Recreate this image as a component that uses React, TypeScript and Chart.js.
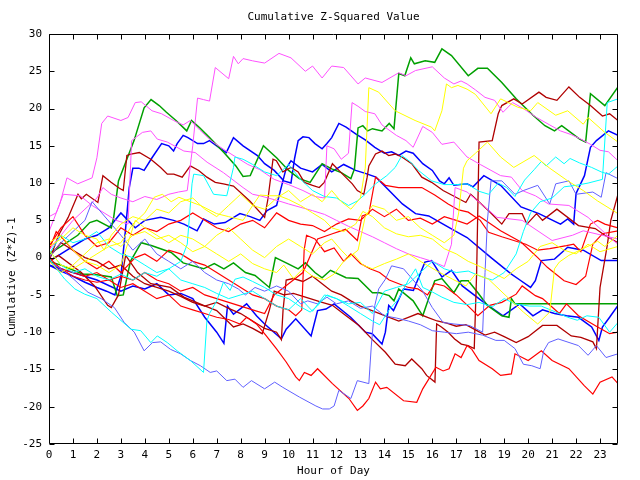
import React, { useEffect, useRef } from 'react';
import { Chart, registerables } from 'chart.js';

Chart.register(...registerables);

type Pt = [number, number];

// ---------- axis / text content ----------
const TITLE = 'Cumulative Z-Squared Value';
const X_LABEL = 'Hour of Day';
const Y_LABEL = 'Cumulative (Z*Z)-1';
const HOUR_TICKS = [0, 1, 2, 3, 4, 5, 6, 7, 8, 9, 10, 11, 12, 13, 14, 15, 16, 17, 18, 19, 20, 21, 22, 23];
const VALUE_TICKS = [-25, -20, -15, -10, -5, 0, 5, 10, 15, 20, 25, 30];
const X_MIN = 0;
const X_MAX = 23.75;
const Y_MIN = -25;
const Y_MAX = 30;

// ---------- series (hour, cumulative value) ----------
const magentaA: Pt[] = [[0,3.5],[0.45,7.2],[0.75,10.7],[1.2,9.9],[1.8,10.7],[2.0,13.4],[2.2,18],[2.45,19],[3.0,18.4],[3.3,18.8],[3.6,20.8],[3.85,20.9],[4.3,19.7],[4.7,19.3],[5.2,18.4],[5.6,17.8],[5.9,18.4],[6.3,17.1],[6.8,15.6],[7.3,14.5],[7.8,13.5],[8.3,12.5],[8.8,11.8],[9.4,10.5],[10,9.8],[10.6,9],[11.1,8.2],[11.5,8],[11.6,15],[11.9,14.6],[12.2,13.2],[12.5,14],[12.65,20.8],[12.9,20.3],[13.2,19.6],[13.6,19.3],[13.9,17.8],[14.5,16.4],[14.9,15.7],[15.2,14.8],[15.6,17.6],[16,16.8],[16.4,15.2],[16.9,15.5],[17.45,13.5],[18,12.5],[18.85,11],[19.3,10.8],[19.75,9],[20.3,8.3],[20.85,7.2],[21.7,7],[22.5,5.4],[23.4,2.7],[23.75,1.8]];
const magentaB: Pt[] = [[0,5.5],[0.3,6],[0.6,8.5],[1.3,8.3],[1.8,7],[2.3,6],[2.8,5],[3.3,4.5],[3.45,15.7],[3.9,16.8],[4.25,17],[4.52,15.9],[4.94,15.5],[5.63,14.3],[6.1,14.1],[6.6,12.8],[7.28,11.4],[8.1,9.4],[8.5,8.5],[8.8,8.3],[9.6,7.6],[10,7.2],[11,6.3],[11.5,5.8],[12,5],[12.5,4.2],[13,3.5],[13.5,2.8],[14,2],[14.5,1.2],[15,0.5],[15.5,0],[16,-0.5],[16.5,-1.2],[16.8,1.8],[16.95,9.4],[17.45,8.8],[18.7,5.4],[19.75,5],[21,2.3],[21.85,3],[22.3,3.6],[23.75,2.5]];
const magentaC: Pt[] = [[0,1],[0.5,3],[1,5],[1.5,6.5],[2,8],[2.25,9.4],[2.6,8.5],[3,8],[3.5,7.5],[4,8.2],[4.5,7.8],[5,8.5],[5.4,8.8],[5.77,9],[6.0,15],[6.2,21.4],[6.45,21.2],[6.7,21],[6.94,25.5],[7.5,24],[7.7,27],[7.9,26],[8.1,26.7],[8.5,26.4],[9,26.1],[9.6,27.4],[10.1,26.8],[10.7,25],[11,25.7],[11.4,24.1],[11.8,25.7],[12.3,25.5],[12.9,23.3],[13.2,24.1],[13.9,23.5],[14.6,24.8],[14.9,24.4],[15.3,25.1],[16,25.6],[16.5,24.1],[16.9,23.3],[17.2,23.7],[17.45,23.3],[17.8,22.5],[18.2,21.5],[18.6,21.1],[18.95,19.5],[19.35,20.8],[19.8,20],[20.35,18.8],[20.9,17.8],[21.35,17],[21.8,16.5],[22.2,15.9],[22.6,15.2],[23,14.4],[23.35,14.2],[23.75,13]];
const greenA: Pt[] = [[0,0.5],[0.5,1.5],[1.2,3],[1.7,4.7],[2,5],[2.6,4],[2.7,5.4],[2.9,10.3],[3.55,15.7],[3.97,20.1],[4.26,21.2],[4.6,20.4],[4.9,19.5],[5.3,18.4],[5.75,17],[5.95,18.4],[6.3,17.4],[6.7,16.1],[7.3,14.1],[7.8,12.3],[8.1,10.9],[8.4,11],[8.95,15],[9.5,13.4],[10,11.7],[10.45,10.6],[10.9,10.1],[11.4,12.6],[11.8,11.9],[12.2,11.4],[12.6,10.6],[12.75,11.9],[12.9,17.4],[13.1,17.7],[13.3,17],[13.5,17.3],[13.9,17],[14.2,18],[14.4,17.3],[14.6,24.7],[14.85,24.4],[15.1,26.8],[15.25,26],[15.7,26.4],[16.1,26.2],[16.4,28],[16.8,27.1],[17.5,24.4],[17.9,25.4],[18.3,25.4],[18.9,23.5],[19.5,21.3],[20.2,19.1],[20.7,17.7],[21.1,17],[21.4,17.7],[22.15,15.9],[22.4,15.5],[22.6,22],[23.2,20.4],[23.75,22.9]];
const greenB: Pt[] = [[0,-0.5],[0.5,-1],[1.4,-2.2],[2,-2.3],[2.6,-2.6],[2.85,-5.1],[3.1,-5],[3.4,-0.5],[3.85,2],[4.3,1.6],[5.1,0.7],[5.6,-0.7],[6.45,-1.5],[6.9,-0.8],[7.3,-1.5],[7.7,-0.7],[8.2,-2],[8.6,-2.4],[9.2,-4],[9.45,0],[9.9,-0.7],[10.4,-1.5],[10.7,-0.7],[11.1,-2],[11.4,-2.7],[11.75,-1.7],[12.4,-2.7],[12.9,-2.8],[13.5,-4.7],[13.8,-4.7],[14.2,-5.1],[14.4,-5.8],[14.6,-4.2],[15.2,-5.8],[15.6,-7.8],[16.1,-3.1],[16.4,-2.8],[16.9,-4.7],[17.2,-3.1],[17.5,-3.1],[17.9,-4.7],[18.3,-6.4],[18.9,-7.8],[19.2,-8],[19.3,-5.5],[19.45,-6.2],[23.75,-6.2]];
const blueA: Pt[] = [[0,-1],[0.5,-1.8],[1,-2.5],[1.5,-3.3],[2,-4],[2.4,-4.5],[2.75,-5],[3.0,-2.5],[3.2,4],[3.35,9.4],[3.5,12],[3.75,12],[3.97,11.7],[4.3,13.4],[4.7,15.3],[5,15],[5.2,14.3],[5.35,15.3],[5.6,16.4],[5.8,16.1],[6.2,15.3],[6.45,15.3],[6.7,15.7],[7,15],[7.4,14.1],[7.7,16.1],[8.1,15],[8.7,13.7],[9,12.6],[9.4,11.7],[9.8,10.3],[10.1,10],[10.25,13.3],[10.4,15.7],[10.6,16.2],[10.85,16.1],[11.1,15.3],[11.4,14.6],[11.6,15.3],[11.8,16.1],[12.1,18],[12.4,17.5],[12.8,16.6],[13.2,15.8],[13.6,14.8],[14,14],[14.3,14.2],[14.6,13.7],[14.9,14.3],[15.2,14],[15.6,12.6],[16,11.7],[16.3,10.3],[16.5,9.9],[16.7,10.7],[16.9,9.7],[17.45,9.9],[17.7,9.5],[18.15,11],[18.85,9.7],[19.7,6.8],[20.45,5.9],[21.35,4.5],[21.65,5.2],[21.9,4.5],[22,8.6],[22.35,11],[22.6,14.8],[22.85,15.7],[23.35,17],[23.75,16.4]];
const blueB: Pt[] = [[0,-1],[1,-2],[2,-3],[3,-4.5],[3.5,-3.8],[4,-4.2],[4.5,-3.5],[5,-5],[5.5,-4.8],[6,-5.5],[6.5,-8],[7,-10],[7.3,-11.5],[7.45,-6.5],[7.7,-7.6],[8.25,-6.2],[8.66,-7.8],[9.0,-8.9],[9.7,-10.9],[9.9,-9.6],[10.3,-8.2],[10.94,-10.5],[11.21,-7.1],[11.56,-6.9],[11.9,-6.2],[12.59,-8],[13.21,-10],[13.49,-10.2],[13.9,-11.6],[14.04,-10],[14.18,-6.4],[14.38,-7.1],[14.8,-4.2],[15.21,-4.4],[15.69,-0.6],[15.97,-0.4],[16.4,-2.6],[16.8,-1.7],[17.25,-3.8],[18.15,-6],[18.95,-7.8],[19.65,-6.2],[20.2,-7.8],[20.6,-7],[21.1,-7.5],[21.6,-7.8],[22.1,-8],[22.65,-9.3],[22.95,-11.1],[23.1,-9.3],[23.4,-8],[23.75,-6.4]];
const blueC: Pt[] = [[0,-0.5],[0.5,0.5],[1,1.5],[1.5,2.5],[2,3],[2.5,4],[3,6],[3.3,5],[3.6,4],[4,5],[4.66,5.4],[5.2,5],[5.63,4.5],[6.18,3.6],[6.45,5.2],[6.9,4.5],[7.35,4.7],[7.97,5.9],[8.4,5.5],[8.8,5],[9.1,6.3],[9.5,7],[9.9,12],[10.1,13],[10.5,12],[11,11.5],[11.4,12.5],[11.8,11.5],[12.3,12.5],[12.8,11.7],[13.2,11.3],[13.65,10.8],[14.75,7.2],[15.3,5.9],[15.85,5.6],[16.45,4.5],[17,3.5],[17.45,2.7],[18.45,0],[19.3,-2.2],[19.7,-3.1],[20.1,-4],[20.3,-3.1],[20.55,-0.4],[21.1,-0.2],[21.65,1.4],[22.3,1],[23.05,-0.4],[23.75,-0.4]];
const slateA: Pt[] = [[0,-0.5],[0.5,-1.5],[1,-2.8],[1.63,-4.65],[2.18,-5.5],[2.73,-6.7],[3.14,-8.7],[3.56,-10],[3.97,-12.5],[4.32,-11.4],[4.66,-11.3],[5.07,-12.3],[5.49,-12.9],[5.9,-13.8],[6.32,-14.5],[6.73,-15.4],[7.0,-15.2],[7.42,-16.5],[7.76,-16.3],[8.1,-17.4],[8.45,-16.5],[9.0,-17.6],[9.42,-16.7],[9.76,-17.4],[10.45,-18.7],[11.14,-19.9],[11.42,-20.3],[11.7,-20.3],[11.9,-19.9],[12.1,-17.8],[12.6,-18.9],[12.87,-16.5],[13.35,-16.9],[13.45,-12],[13.6,-6.4],[13.76,-4.2],[14.04,-2.9],[14.3,-1.1],[14.8,-1.5],[15.2,-3],[15.6,-4.5],[16,-6.7],[16.45,-8.7],[16.9,-8.9],[17.55,-9.1],[18.1,-10],[18.2,-2],[18.3,5],[18.45,10.3],[18.9,10.3],[19.45,8.5],[19.8,9],[20.4,9.7],[20.9,7.2],[21.15,9.9],[21.7,10.3],[22,8.5],[22.7,8.8],[23.05,8.1],[23.25,11.4],[23.75,10.6]];
const slateB: Pt[] = [[0,0],[0.5,2],[1,3.5],[1.5,5],[1.8,7.5],[2.2,6],[2.6,4.5],[3,3],[3.5,1],[4,2.5],[4.5,0.5],[5,-0.5],[5.5,-1.5],[6,-0.5],[6.5,-2],[7,-3],[7.5,-3.5],[7.9,-4.2],[8.2,-5],[8.6,-4],[9,-4.5],[9.5,-3.8],[10,-4.5],[10.5,-6.2],[10.8,-5.8],[11.2,-6.2],[11.6,-5.3],[12,-6.2],[12.5,-5.8],[13,-6.8],[13.5,-6.5],[14,-7.8],[14.5,-8.1],[15,-8.5],[15.5,-9],[16,-9.8],[16.5,-10],[17,-10.2],[17.5,-10],[18.1,-10.4],[18.65,-11.1],[19,-11.1],[19.45,-12.2],[19.8,-14.3],[20.15,-14.5],[20.5,-14.9],[20.65,-12.5],[20.85,-11.4],[21.25,-10.9],[22.1,-11.8],[22.5,-13.1],[22.85,-11.8],[23.25,-13.4],[23.75,-12.9]];
const cyanA: Pt[] = [[0,0],[0.11,-0.63],[0.66,-2.9],[1.08,-4.2],[1.49,-4.9],[2.0,-5.5],[2.6,-7.3],[3.42,-9.6],[3.83,-9.8],[4.25,-11.4],[4.52,-10.5],[4.94,-11.4],[5.35,-12.5],[5.9,-13.8],[6.45,-15.4],[6.59,-8.5],[6.7,-7.5],[7.0,-5.8],[7.28,-3.3],[7.56,-4.4],[7.76,-2.9],[8.1,-2.6],[8.5,-3.2],[9,-4],[9.5,-5],[10,-5.5],[10.5,-6.6],[10.9,-7.3],[11.2,-6.5],[11.6,-5],[12,-5.5],[12.5,-6.5],[13,-7.5],[13.5,-8.5],[13.8,-9],[14.2,-7],[14.6,-5.5],[15,-3],[15.3,-1.5],[15.6,-4],[16,-4.6],[16.4,-5.3],[16.9,-6],[17.45,-6.3],[17.95,-6],[18.5,-6.6],[19,-5.5],[19.45,-6.2],[20.05,-6.5],[20.55,-6.5],[21.15,-7.3],[21.65,-8],[22.05,-8.4],[22.45,-7.8],[22.95,-8],[23.4,-10],[23.75,-8.7]];
const cyanB: Pt[] = [[0,1],[0.5,-1],[1,-2],[1.5,-1.5],[2,-2.5],[2.5,-3],[3,-2.2],[3.5,-3],[4,-2],[4.5,-2.5],[5,-1.5],[5.5,-0.5],[5.77,1.8],[5.97,9.9],[6.04,11.2],[6.45,11],[6.87,8.5],[7.42,8.3],[7.7,12.1],[7.76,13.5],[8.1,13.2],[8.5,12.5],[9,11.5],[9.5,11],[10,12.5],[10.5,10.5],[11,9],[11.5,8.2],[12,8],[12.5,7],[12.87,7.6],[13.2,8.5],[13.63,9.9],[14.1,11],[14.45,12.1],[14.73,13.7],[15.1,12.8],[15.42,11.7],[15.97,10.3],[16.5,9.8],[17,9.8],[17.45,9.9],[17.95,8.9],[18.35,8.5],[18.75,10],[19.1,9.4],[19.45,8.2],[19.85,10.4],[20.25,11.8],[20.55,12.9],[20.75,12.3],[21.15,13.5],[21.5,12.6],[21.75,13.3],[22.15,12.7],[22.65,12.1],[23.05,11.5],[23.35,11.2],[23.75,12.3]];
const cyanC: Pt[] = [[0,0.5],[0.5,3],[1,2],[1.5,2.5],[2,3.5],[2.5,1.5],[3,0.5],[3.5,0],[4,-1],[4.5,-2],[5,-1.5],[5.5,-3],[6,-3.5],[6.5,-4],[7,-4.8],[7.5,-5.5],[8,-5],[8.5,-4.5],[9,-5.5],[9.5,-6.5],[10,-7],[10.5,-5.5],[11,-7.2],[11.5,-5],[12,-5.5],[12.5,-6.2],[13,-6],[13.5,-7.5],[14,-4.5],[14.5,-4],[15,-3.5],[15.5,-2],[16,-0.5],[16.5,-1.5],[17,-2],[17.5,-1.8],[18,-2.5],[18.5,-3],[19,-2],[19.5,0.5],[19.8,3.5],[20.1,6],[20.5,7.5],[21,8],[21.5,9.5],[22,9.7],[22.5,10],[23.1,10.5],[23.3,20.8],[23.75,21.3]];
const yellowA: Pt[] = [[0,1.5],[0.5,2.5],[1,4],[1.5,3],[2,2.5],[2.3,1],[2.6,3],[3,4.5],[3.5,5.5],[4,5],[4.5,6.5],[5,6],[5.5,7.5],[6,8],[6.5,6.5],[7,5.5],[7.5,7],[8,8.5],[8.5,7],[9,6.5],[9.5,8],[10,9],[10.5,7.5],[11,8.5],[11.4,7.5],[11.8,9],[12.2,7.5],[12.6,6.5],[13,8],[13.2,12],[13.35,22.8],[13.76,22.2],[14.45,19.7],[15.28,18.4],[15.97,17.5],[16.1,17],[16.4,19.7],[16.59,23.3],[16.8,22.8],[17.07,23.1],[17.45,22.6],[17.8,21.9],[18.45,19.3],[18.85,21.3],[19.55,20.2],[20.1,19.7],[20.4,20.8],[21.15,19.1],[21.65,19.7],[22.3,17.9],[22.5,18.8],[23.2,16.8],[23.75,15.5]];
const yellowB: Pt[] = [[0,-0.5],[0.5,-2],[1,-1],[1.5,0.5],[2,2],[2.5,2.5],[3,1.5],[3.5,3],[4,3.5],[4.5,2.5],[5,3],[5.5,2],[6,0.8],[6.5,1.5],[7,3],[7.5,4],[8,2.5],[8.5,1],[9,0],[9.5,1.5],[10,2.5],[10.5,1.5],[11,0.5],[11.5,2],[11.8,2.5],[12.2,1],[12.5,0],[12.9,1],[13.2,5.5],[13.5,7],[14,6.5],[14.5,5],[15,5.5],[15.5,4],[16,3],[16.5,2],[16.9,3],[17.1,6],[17.3,12],[17.45,13],[17.8,14],[18.3,15.5],[18.85,13.5],[19.4,12.1],[20.25,13.7],[20.9,12],[21.65,10.3],[22.3,9],[22.9,7.6],[23.75,5.9]];
const yellowC: Pt[] = [[0,2],[0.5,3],[1,1],[1.5,-0.5],[2,-1],[2.5,-2],[3,-1],[3.3,2],[3.6,5],[4,4],[4.5,3],[5,2],[5.5,3],[6,2.5],[6.5,1.5],[7,0.5],[7.5,-0.5],[8,0.5],[8.5,-0.8],[9,-1.5],[9.5,-2],[9.8,-1],[10.2,-2.8],[10.6,-1.5],[11,-2.5],[11.5,-3],[11.9,-2.2],[12.3,-0.5],[12.7,0.5],[13.1,-1],[13.5,-1.5],[14,-0.8],[14.5,-0.2],[15,0.5],[15.56,-0.6],[16.2,-1.8],[16.85,-2.9],[17.4,-3.8],[17.8,-2.2],[18.35,-2.9],[19.2,-5.5],[19.8,-7.3],[20.4,-8.9],[20.9,-7.3],[21.1,-1.5],[21.3,-0.6],[21.7,0.3],[22.55,1.6],[22.9,2.2],[23.2,1.5],[23.75,3]];
const yellowD: Pt[] = [[0,1],[0.5,-1],[1,-1.5],[1.5,-0.5],[2,0.5],[2.5,1.5],[3,2],[3.5,4.5],[4,6],[4.39,8.1],[4.73,8.5],[5.1,7.5],[5.42,8.1],[5.9,7.5],[6.32,7],[7,5.9],[7.5,5.5],[8.1,5],[8.5,7],[8.8,8.4],[9.2,8.3],[9.6,8.3],[10,7.8],[10.5,7],[11,6],[11.5,5],[11.8,4],[12.3,3.5],[12.8,4.5],[13.1,6.2],[13.5,5.5],[14,4],[14.5,3.2],[15,2.8],[15.5,3],[16,2.5],[16.5,1.2],[17,0.5],[17.5,-0.5],[18,-1.2],[18.5,-2],[19,-2.8],[19.5,-1.5],[20,-0.5],[20.5,1.5],[21,2],[21.5,1],[22,0.5],[22.5,1.8],[23,0.8],[23.75,1.5]];
const redA: Pt[] = [[0,-0.5],[0.5,-1.5],[1,-2.5],[1.5,-3],[2,-3.3],[2.5,-3],[3,-4],[3.5,-3.5],[4,-4.5],[4.5,-5.5],[5,-5],[5.5,-6.5],[6,-7],[6.5,-7.5],[7,-8],[7.5,-8.3],[7.97,-8.9],[8.25,-8],[8.66,-8.9],[9.07,-10.5],[9.49,-12.2],[9.9,-14],[10.3,-16],[10.45,-16.5],[10.66,-15.4],[10.94,-15.8],[11.21,-14.9],[11.83,-16.9],[12.52,-18.9],[12.87,-20.5],[13.1,-19.9],[13.35,-18.9],[13.63,-16.7],[13.83,-17.6],[14.1,-17.4],[14.8,-19.2],[15.35,-19.4],[15.6,-17.6],[15.85,-16.3],[16.15,-14.7],[16.45,-15.2],[16.7,-14.9],[16.95,-12.9],[17.2,-13.4],[17.45,-11.8],[17.65,-12.3],[17.95,-13.8],[18.5,-14.9],[18.85,-15.8],[19.3,-15.6],[19.45,-12.9],[20,-13.8],[20.55,-12.5],[21,-13.8],[21.7,-14.9],[22.35,-17.2],[22.7,-18.3],[23,-16.7],[23.5,-16],[23.75,-16.9]];
const redB: Pt[] = [[0,1],[0.3,3.5],[0.6,2.5],[1,1],[1.5,-0.5],[2,-1.5],[2.5,-0.5],[3,-2],[3.3,-1],[3.6,0],[4,0.5],[4.5,-0.5],[5,1],[5.5,0.5],[6,-0.5],[6.5,-1],[7,-2],[7.5,-3],[8,-4],[8.5,-5],[9,-5.5],[9.5,-6.5],[10,-7],[10.3,-7.8],[10.55,-7],[10.65,1],[10.75,3],[11.1,2.5],[11.5,0.8],[11.9,1.3],[12.3,-0.5],[12.6,0.5],[13,-0.8],[13.4,-1.5],[13.8,-2],[14.2,-3],[14.6,-3.5],[15,-4],[15.4,-4.2],[15.8,-5],[16.1,-3.5],[16.5,-3.8],[17,-5],[17.5,-6.5],[17.9,-7.8],[18.4,-6.4],[18.9,-6],[19.5,-4.9],[19.75,-3.8],[20.3,-5.1],[20.6,-5.5],[21.3,-7.5],[21.6,-6.2],[22.1,-7.8],[22.9,-9.3],[23.4,-10.2],[23.75,-10]];
const redC: Pt[] = [[0,0],[0.5,-1.5],[1,-2],[1.5,-2.5],[2,-2],[2.5,-3],[3,-2.5],[3.5,-3],[4,-2],[4.5,-3],[5,-3.5],[5.5,-4.5],[6,-4],[6.5,-5],[7,-5.5],[7.5,-6],[8,-6.5],[8.5,-7],[9,-7.5],[9.4,-5],[9.8,-4],[10.2,-3],[10.6,-2],[11.21,2.5],[11.83,3.2],[12.38,3.8],[12.87,2.3],[13.07,5.6],[13.35,5.9],[13.63,10.8],[14.04,9.7],[14.59,9.4],[15.14,9.4],[15.56,9.4],[16.1,8.4],[16.66,7.2],[17.1,6.4],[17.5,6.1],[18,5],[18.35,3.4],[18.9,2.8],[19.5,2.2],[19.9,1.8],[20.4,1],[20.9,1.2],[21.6,1.6],[21.9,1.8],[22.2,0.8],[22.6,4.5],[22.9,5],[23.2,4.5],[23.75,4]];
const redE: Pt[] = [[0,1.5],[0.5,4],[1,5.5],[1.5,3],[2,1.5],[2.5,2],[3,4],[3.5,3],[4,4],[4.5,3.5],[5,4.5],[5.5,5],[6,6],[6.5,5],[7,4],[7.5,3.5],[8,4.5],[8.5,5],[9,4],[9.5,6],[10,5],[10.5,4.5],[11,4.3],[11.5,3.5],[12,4.5],[12.5,5.2],[13,5],[13.5,6.5],[14,5.5],[14.5,6.5],[15,5],[15.5,5.3],[16,4.5],[16.5,5.5],[17,5],[17.45,4.5],[17.95,5.6],[18.85,3.6],[19.7,2.1],[20.4,0],[20.8,-1.3],[21.5,-3.1],[22,-3.6],[22.4,-2.5],[22.7,1.8],[23.1,3.2],[23.75,3.6]];
const darkRedA: Pt[] = [[0,-0.5],[0.4,3],[0.8,5.4],[1.21,8.5],[1.35,7.9],[1.56,8.5],[2.04,7.4],[2.25,11],[2.59,10.1],[2.94,9.3],[3.1,9],[3.25,13.7],[3.42,13.9],[3.77,14.1],[4.25,13.2],[4.66,12.1],[4.94,11.2],[5.21,11.2],[5.56,10.8],[5.9,12.3],[6.25,11.7],[6.59,10.8],[6.94,10.1],[7.28,9.9],[7.7,9.6],[8.38,7.6],[9.0,5.4],[9.14,7.9],[9.35,13.2],[9.49,13],[9.76,11.5],[10.1,12.1],[10.4,11.5],[10.66,10.1],[11,9.7],[11.28,9.4],[11.49,10.1],[11.83,12.6],[12.1,11.7],[12.38,10.8],[12.66,9.9],[12.87,9],[13.14,8.5],[13.28,10.8],[13.35,12.3],[13.63,13.9],[13.9,14.3],[14.18,13.7],[14.45,13.9],[14.73,13.5],[15.14,12.6],[15.56,10.8],[15.97,10.1],[16.45,9],[17.4,7.4],[17.6,8.5],[18.35,6.3],[18.9,4.5],[19.2,5.9],[19.75,5.9],[19.95,4.5],[20.35,5.9],[20.6,5],[21.2,6.5],[22.1,4.3],[22.8,3.9],[23.2,3],[23.75,2]];
const darkRedB: Pt[] = [[0,-0.5],[0.39,0.3],[1.35,-2],[1.9,-3.8],[2.45,-6.4],[2.6,-6.7],[2.9,-5],[3.2,0.3],[3.7,-2],[4.25,-3.5],[5.07,-4],[5.63,-5.3],[6.45,-6.4],[7.0,-7.1],[7.7,-9.3],[8.1,-8.9],[8.5,-9.5],[8.9,-10.2],[9.2,-7],[9.4,-4.5],[9.8,-5],[10.2,-4.8],[10.6,-5.2],[11,-5.6],[11.4,-6],[11.83,-6.4],[12.4,-7.8],[12.94,-9.1],[13.5,-11],[14.04,-12.7],[14.45,-14.3],[14.87,-14.5],[15.14,-13.6],[15.56,-14.9],[15.76,-15.8],[16.11,-16.7],[16.18,-8.9],[16.38,-9.3],[16.66,-10],[16.93,-10.9],[17.21,-11.6],[17.49,-11.8],[17.75,-12.2],[17.85,-2],[17.95,15.5],[18.5,15.7],[18.75,19.3],[18.9,20.4],[19.4,21.3],[19.75,20.6],[20.45,22.2],[20.75,21.5],[21.2,21.1],[21.7,22.9],[22.15,21.5],[22.6,20.4],[23.1,19],[23.4,19.3],[23.75,18.4]];
const darkRedC: Pt[] = [[0,0],[0.5,2],[1,1],[1.5,0],[2,-0.5],[2.5,-1.5],[3,-1],[3.5,-2.5],[4,-3.5],[4.5,-4],[5,-4.5],[5.5,-5.2],[6,-6],[6.5,-6.5],[7,-6],[7.5,-6.8],[8,-7.5],[8.5,-8.5],[9,-9.5],[9.5,-10],[9.7,-11],[9.77,-7],[9.9,-3],[10.2,-2.8],[10.6,-3.2],[11,-2.5],[11.4,-3.5],[11.8,-4.5],[12.2,-5],[12.6,-5.8],[13,-6.5],[13.4,-7],[13.8,-7.5],[14.2,-8],[14.6,-8.5],[15,-8],[15.4,-7.5],[15.8,-8],[16.2,-8.5],[16.6,-8.8],[17,-9.2],[17.4,-9],[17.8,-9.7],[18.2,-10.4],[18.6,-10],[19,-10.6],[19.5,-11.4],[20,-10.6],[20.6,-9.1],[21.2,-9.1],[21.8,-10.5],[22.2,-10.7],[22.7,-11.3],[22.85,-12.2],[23.0,-4],[23.3,1.6],[23.45,5],[23.75,8.5]];

// ---------- styles ----------
const RED = '#ff0000';
const GREEN = '#00a000';
const BLUE = '#0000ff';
const MAGENTA = '#ff50ff';
const CYAN = '#00ffff';
const DARK_RED = '#b00000';
const YELLOW = '#ffff00';
const SLATE = '#6060ff';

const SERIES: { data: Pt[]; color: string; width: number }[] = [
  { data: yellowA, color: YELLOW, width: 1 },
  { data: yellowB, color: YELLOW, width: 1 },
  { data: yellowC, color: YELLOW, width: 1 },
  { data: yellowD, color: YELLOW, width: 1 },
  { data: cyanA, color: CYAN, width: 1 },
  { data: cyanB, color: CYAN, width: 1 },
  { data: cyanC, color: CYAN, width: 1 },
  { data: slateA, color: SLATE, width: 1 },
  { data: slateB, color: SLATE, width: 1 },
  { data: magentaA, color: MAGENTA, width: 1 },
  { data: magentaB, color: MAGENTA, width: 1 },
  { data: magentaC, color: MAGENTA, width: 1 },
  { data: redA, color: RED, width: 1.2 },
  { data: redB, color: RED, width: 1.2 },
  { data: redC, color: RED, width: 1.2 },
  { data: redE, color: RED, width: 1.2 },
  { data: darkRedA, color: DARK_RED, width: 1.3 },
  { data: darkRedB, color: DARK_RED, width: 1.3 },
  { data: darkRedC, color: DARK_RED, width: 1.3 },
  { data: greenA, color: GREEN, width: 1.5 },
  { data: greenB, color: GREEN, width: 1.5 },
  { data: blueA, color: BLUE, width: 1.5 },
  { data: blueB, color: BLUE, width: 1.5 },
  { data: blueC, color: BLUE, width: 1.5 },
];

const FONT_FAMILY = '"DejaVu Sans Mono", "Liberation Mono", monospace';
const FONT_SIZE = 11;

const framePlugin = {
  id: 'frameAndTitles',
  afterDraw(chart: any) {
    const { ctx, chartArea: a, scales } = chart;
    const xs = scales.x;
    const ys = scales.y;
    ctx.save();
    ctx.strokeStyle = '#000';
    ctx.lineWidth = 1;
    const L = Math.round(a.left) + 0.5;
    const R = Math.round(a.right) - 0.5;
    const T = Math.round(a.top) + 0.5;
    const B = Math.round(a.bottom) - 0.5;
    ctx.beginPath();
    ctx.rect(L, T, R - L, B - T);
    const tick = 5;
    for (const v of HOUR_TICKS) {
      const x = Math.round(xs.getPixelForValue(v)) + 0.5;
      ctx.moveTo(x, B);
      ctx.lineTo(x, B - tick);
      ctx.moveTo(x, T);
      ctx.lineTo(x, T + tick);
    }
    for (const v of VALUE_TICKS) {
      const y = Math.round(ys.getPixelForValue(v)) + 0.5;
      ctx.moveTo(L, y);
      ctx.lineTo(L + tick, y);
      ctx.moveTo(R, y);
      ctx.lineTo(R - tick, y);
    }
    ctx.stroke();

    ctx.fillStyle = '#000';
    ctx.font = `${FONT_SIZE}px ${FONT_FAMILY}`;
    ctx.textAlign = 'center';
    ctx.textBaseline = 'middle';
    const cx = (a.left + a.right) / 2;
    ctx.fillText(TITLE, cx, 17);
    ctx.fillText(X_LABEL, cx, 471);
    ctx.translate(12, 277);
    ctx.rotate(-Math.PI / 2);
    ctx.fillText(Y_LABEL, 0, 0);
    ctx.restore();
  },
};

export default function App() {
  const canvasRef = useRef<HTMLCanvasElement | null>(null);

  useEffect(() => {
    const canvas = canvasRef.current;
    if (!canvas) return;
    const chart = new Chart(canvas, {
      type: 'scatter',
      data: {
        datasets: SERIES.map((s, i) => ({
          label: 'series ' + (i + 1),
          data: s.data.map(([x, y]) => ({ x, y })),
          borderColor: s.color,
          backgroundColor: s.color,
          borderWidth: s.width,
          showLine: true,
          pointRadius: 0,
          pointHoverRadius: 0,
          fill: false,
          tension: 0,
        })),
      },
      options: {
        animation: false,
        responsive: false,
        devicePixelRatio: 1,
        layout: { padding: { top: 34, right: 22, left: 0, bottom: 0 } },
        plugins: {
          legend: { display: false },
          tooltip: { enabled: false },
          title: { display: false },
        },
        events: [],
        scales: {
          x: {
            type: 'linear',
            min: X_MIN,
            max: X_MAX,
            grid: { display: false, drawTicks: false },
            border: { display: false },
            ticks: {
              autoSkip: false,
              maxRotation: 0,
              minRotation: 0,
              padding: 5,
              color: '#000',
              font: { family: FONT_FAMILY, size: FONT_SIZE },
              callback: (v: any) => String(v),
            },
            afterBuildTicks: (scale: any) => {
              scale.ticks = HOUR_TICKS.map((v) => ({ value: v }));
            },
            afterFit: (scale: any) => {
              scale.height = 36;
            },
          },
          y: {
            type: 'linear',
            min: Y_MIN,
            max: Y_MAX,
            grid: { display: false, drawTicks: false },
            border: { display: false },
            ticks: {
              padding: 7,
              color: '#000',
              font: { family: FONT_FAMILY, size: FONT_SIZE },
              callback: (v: any) => String(v),
            },
            afterBuildTicks: (scale: any) => {
              scale.ticks = VALUE_TICKS.map((v) => ({ value: v }));
            },
            afterFit: (scale: any) => {
              scale.width = 49;
            },
          },
        },
      },
      plugins: [framePlugin],
    });
    return () => chart.destroy();
  }, []);

  return (
    <div style={{ position: 'fixed', left: 0, top: 0, width: 640, height: 480, background: '#fff' }}>
      <canvas ref={canvasRef} width={640} height={480} style={{ display: 'block', width: 640, height: 480 }} />
    </div>
  );
}
